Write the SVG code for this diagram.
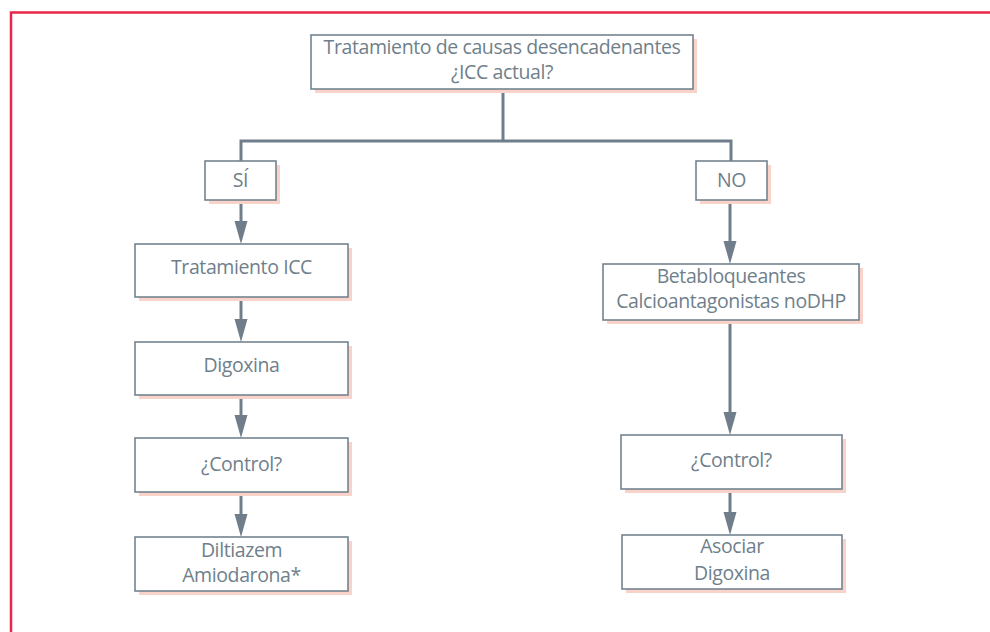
<svg xmlns="http://www.w3.org/2000/svg" width="990" height="632" viewBox="0 0 990 632">
  <style>
    .shadow { fill: #f9d2ca; }
    .box { fill: #ffffff; stroke: #74838f; stroke-width: 1.6; }
    .label { font-family: "Open Sans", "Liberation Sans", sans-serif; font-size: 19.5px; letter-spacing: -0.4px; fill: #6f7f8b; text-anchor: middle; }
    .wire { fill: none; stroke: #6f7e8a; stroke-width: 3; }
    .frame { fill: none; stroke: #e8264a; stroke-width: 2.5; }
  </style>
  <defs>
    <marker id="head" markerUnits="userSpaceOnUse" markerWidth="24" markerHeight="14" viewBox="0 -7 24 14" refX="0" refY="0" orient="auto">
      <path d="M0,-6.5 L23,0 L0,6.5 Z" fill="#6f7e8a"/>
    </marker>
  </defs>

  <rect width="990" height="632" fill="#ffffff"/>
  <!-- page frame -->
  <path class="frame" d="M11,632 V12.5 H990"/>

  <!-- connectors -->
  <g id="connectors">
    <path class="wire" d="M503,89 V141"/>
    <path class="wire" d="M241,161 V141 H731 V161"/>
    <line class="wire" x1="241" y1="200" x2="241" y2="221" marker-end="url(#head)"/>
    <line class="wire" x1="241" y1="297" x2="241" y2="319" marker-end="url(#head)"/>
    <line class="wire" x1="241" y1="395" x2="241" y2="415" marker-end="url(#head)"/>
    <line class="wire" x1="241" y1="492" x2="241" y2="514" marker-end="url(#head)"/>
    <line class="wire" x1="730" y1="200" x2="730" y2="241" marker-end="url(#head)"/>
    <line class="wire" x1="730" y1="320" x2="730" y2="412" marker-end="url(#head)"/>
    <line class="wire" x1="730" y1="489" x2="730" y2="512" marker-end="url(#head)"/>
  </g>

  <g id="inicio">
    <rect class="shadow" x="315" y="39" width="382" height="54"/>
    <rect class="box" x="311" y="35" width="382" height="54"/>
    <text class="label" x="502" y="54">Tratamiento de causas desencadenantes</text>
    <text class="label" x="502" y="79">¿ICC actual?</text>
  </g>

  <g id="si">
    <rect class="shadow" x="209" y="165" width="71" height="39"/>
    <rect class="box" x="205" y="161" width="71" height="39"/>
    <text class="label" x="240.5" y="187">SÍ</text>
  </g>

  <g id="no">
    <rect class="shadow" x="700" y="165" width="71" height="39"/>
    <rect class="box" x="696" y="161" width="71" height="39"/>
    <text class="label" x="731.5" y="187">NO</text>
  </g>

  <g id="tratamiento-icc">
    <rect class="shadow" x="139" y="248" width="213" height="53"/>
    <rect class="box" x="135" y="244" width="213" height="53"/>
    <text class="label" x="241.5" y="274">Tratamiento ICC</text>
  </g>

  <g id="digoxina">
    <rect class="shadow" x="139" y="346" width="213" height="53"/>
    <rect class="box" x="135" y="342" width="213" height="53"/>
    <text class="label" x="241.5" y="372">Digoxina</text>
  </g>

  <g id="control-izq">
    <rect class="shadow" x="139" y="442" width="213" height="54"/>
    <rect class="box" x="135" y="438" width="213" height="54"/>
    <text class="label" x="241.5" y="471">¿Control?</text>
  </g>

  <g id="diltiazem">
    <rect class="shadow" x="139" y="541" width="213" height="54"/>
    <rect class="box" x="135" y="537" width="213" height="54"/>
    <text class="label" x="241.5" y="557">Diltiazem</text>
    <text class="label" x="241.5" y="582">Amiodarona*</text>
  </g>

  <g id="betabloqueantes">
    <rect class="shadow" x="607" y="268" width="256" height="56"/>
    <rect class="box" x="603" y="264" width="256" height="56"/>
    <text class="label" x="731" y="283">Betabloqueantes</text>
    <text class="label" x="731" y="308">Calcioantagonistas noDHP</text>
  </g>

  <g id="control-der">
    <rect class="shadow" x="625" y="439" width="221" height="54"/>
    <rect class="box" x="621" y="435" width="221" height="54"/>
    <text class="label" x="731.5" y="467">¿Control?</text>
  </g>

  <g id="asociar">
    <rect class="shadow" x="626" y="539" width="220" height="54"/>
    <rect class="box" x="622" y="535" width="220" height="54"/>
    <text class="label" x="732" y="553">Asociar</text>
    <text class="label" x="732" y="580">Digoxina</text>
  </g>
</svg>
